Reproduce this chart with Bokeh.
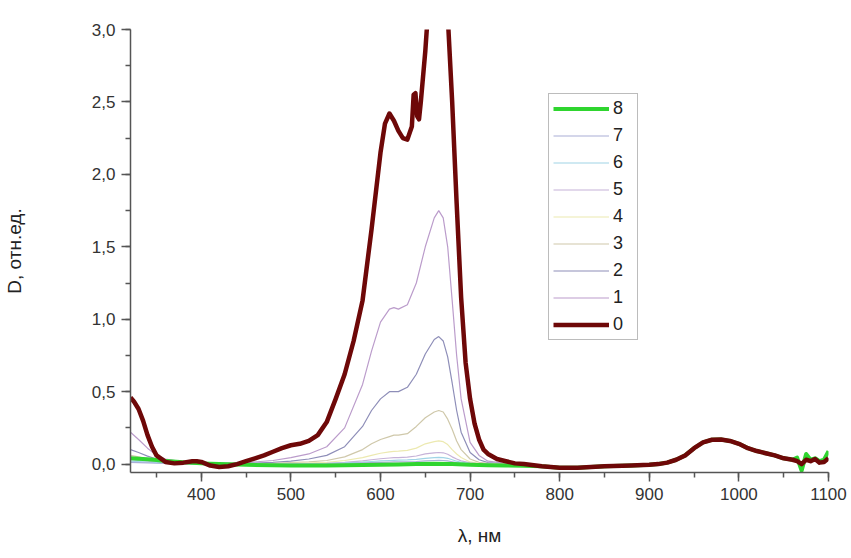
from bokeh.plotting import figure
from bokeh.models import Legend, LegendItem, SingleIntervalTicker, CustomJSTickFormatter, Range1d
from bokeh.embed import file_html
from bokeh.resources import INLINE

# ---------------- data ----------------
# shared near-IR part (all curves coincide there)
nir_wl = [780, 800, 820, 850, 880, 900, 910, 920, 930, 940, 950, 960, 970, 980, 990,
          1000, 1010, 1020, 1030, 1040, 1050, 1060, 1065, 1070, 1075, 1080, 1085, 1090, 1095, 1100]
nir_d = [-0.015, -0.025, -0.025, -0.015, -0.01, -0.005, 0.0, 0.01, 0.03, 0.06, 0.11, 0.15, 0.168, 0.17, 0.16,
         0.14, 0.11, 0.09, 0.075, 0.06, 0.04, 0.03, 0.02, 0.0, 0.03, 0.02, 0.035, 0.01, 0.015, 0.04]

# curve 0 (dark red, thick)
wl0 = [321, 325, 330, 335, 340, 345, 350, 360, 370, 380, 390, 395, 400, 410, 420, 430, 440, 450, 460,
       470, 480, 490, 500, 510, 520, 530, 540, 550, 560, 570, 580, 590, 600, 605, 610, 615, 620, 625,
       630, 635, 637, 639, 641, 643, 645, 650, 655, 660, 670, 675, 680, 685, 690, 695, 700, 705, 710,
       715, 720, 730, 740, 750, 760]
d0 = [0.46, 0.43, 0.38, 0.30, 0.20, 0.12, 0.06, 0.015, 0.005, 0.01, 0.02, 0.02, 0.015, -0.01, -0.02,
      -0.015, 0.0, 0.02, 0.04, 0.06, 0.085, 0.11, 0.13, 0.14, 0.16, 0.20, 0.29, 0.45, 0.62, 0.85, 1.13,
      1.62, 2.15, 2.35, 2.42, 2.37, 2.30, 2.25, 2.24, 2.33, 2.55, 2.56, 2.40, 2.38, 2.50, 2.85, 3.30,
      3.80, 3.80, 3.10, 2.50, 1.80, 1.15, 0.70, 0.45, 0.28, 0.17, 0.10, 0.07, 0.035, 0.02, 0.005, 0.0]

# curves 1..7 (thin) on a common grid
wl_thin = [321, 330, 340, 350, 360, 380, 400, 420, 450, 480, 500, 520, 540, 560, 580, 590, 600, 610,
           615, 620, 630, 640, 650, 660, 665, 670, 675, 680, 685, 690, 700, 710, 720, 740, 760]
d1 = [0.22, 0.17, 0.11, 0.06, 0.035, 0.015, 0.01, 0.005, 0.01, 0.025, 0.045, 0.07, 0.12, 0.25, 0.55, 0.78,
      0.98, 1.07, 1.08, 1.07, 1.10, 1.25, 1.50, 1.70, 1.75, 1.70, 1.50, 1.13, 0.75, 0.45, 0.15, 0.06, 0.02,
      0.005, 0.0]
d2 = [0.10, 0.08, 0.055, 0.035, 0.02, 0.01, 0.005, 0.0, 0.005, 0.012, 0.02, 0.035, 0.06, 0.12, 0.26, 0.37,
      0.45, 0.50, 0.50, 0.50, 0.53, 0.62, 0.76, 0.86, 0.88, 0.85, 0.74, 0.56, 0.37, 0.22, 0.08, 0.03, 0.01,
      0.0, -0.005]
d3 = [0.06, 0.05, 0.035, 0.025, 0.015, 0.008, 0.003, 0.0, 0.0, 0.005, 0.01, 0.015, 0.025, 0.05, 0.10, 0.14,
      0.17, 0.19, 0.20, 0.20, 0.21, 0.26, 0.32, 0.36, 0.37, 0.36, 0.31, 0.24, 0.16, 0.10, 0.035, 0.012, 0.005,
      0.0, -0.005]
d4 = [0.04, 0.035, 0.025, 0.018, 0.012, 0.006, 0.002, 0.0, 0.0, 0.003, 0.005, 0.008, 0.012, 0.025, 0.045,
      0.06, 0.075, 0.085, 0.088, 0.09, 0.095, 0.11, 0.14, 0.155, 0.16, 0.155, 0.135, 0.10, 0.07, 0.045, 0.015,
      0.005, 0.0, -0.005, -0.005]
d5 = [0.03, 0.025, 0.02, 0.014, 0.01, 0.005, 0.001, 0.0, -0.002, 0.0, 0.002, 0.004, 0.006, 0.012, 0.022,
      0.03, 0.037, 0.042, 0.044, 0.045, 0.048, 0.056, 0.07, 0.078, 0.08, 0.078, 0.068, 0.05, 0.035, 0.022,
      0.008, 0.002, 0.0, -0.005, -0.005]
d6 = [0.02, 0.017, 0.013, 0.01, 0.007, 0.004, 0.001, 0.0, -0.003, -0.002, 0.0, 0.002, 0.004, 0.008, 0.014,
      0.018, 0.022, 0.025, 0.026, 0.027, 0.029, 0.033, 0.04, 0.045, 0.046, 0.045, 0.04, 0.03, 0.02, 0.013,
      0.004, 0.0, -0.003, -0.005, -0.005]
d7 = [0.012, 0.01, 0.008, 0.006, 0.004, 0.002, 0.0, -0.002, -0.004, -0.003, -0.002, 0.0, 0.001, 0.004,
      0.008, 0.01, 0.012, 0.014, 0.015, 0.015, 0.016, 0.018, 0.022, 0.025, 0.026, 0.025, 0.022, 0.016, 0.01,
      0.006, 0.0, -0.003, -0.005, -0.005, -0.005]

# curve 8 (green, thick)
wl8 = [321, 330, 340, 350, 360, 380, 400, 420, 450, 480, 500, 520, 540, 560, 580, 600, 620, 640, 660,
       680, 700, 720, 740, 760]
d8 = [0.04, 0.037, 0.033, 0.028, 0.022, 0.012, 0.005, 0.0, -0.005, -0.008, -0.01, -0.01, -0.01, -0.008,
      -0.006, -0.004, -0.002, 0.0, 0.002, 0.0, -0.005, -0.008, -0.01, -0.012]
nir_d8 = [-0.015, -0.025, -0.025, -0.015, -0.01, -0.005, 0.0, 0.01, 0.03, 0.06, 0.11, 0.15, 0.168, 0.17, 0.16,
          0.14, 0.11, 0.09, 0.075, 0.06, 0.04, 0.03, 0.045, -0.045, 0.07, 0.03, 0.04, 0.02, 0.03, 0.09]

labels = ["0", "1", "2", "3", "4", "5", "6", "7", "8"]
thin_series = [d1, d2, d3, d4, d5, d6, d7]
colors = ["#6e0808", "#bb9ccb", "#8e8eb8", "#cfc8aa", "#ece9b0", "#c6b2d8", "#a0d4e6", "#aaaed6", "#2fd52f"]

# ---------------- figure ----------------
FONT = "Liberation Sans"
p = figure(width=848, height=556, output_backend="svg", toolbar_location=None,
           x_range=Range1d(321, 1100), y_range=Range1d(-0.058, 3.0),
           min_border_left=130, min_border_right=20, min_border_top=29, min_border_bottom=84)
p.outline_line_color = None
p.grid.grid_line_color = None
p.background_fill_color = "white"

renderers = {}
for i, d in enumerate(thin_series, start=1):
    renderers[str(i)] = p.line(wl_thin + nir_wl, d + nir_d, line_color=colors[i], line_width=1.2)
renderers["8"] = p.line(wl8 + nir_wl, d8 + nir_d8, line_color=colors[8], line_width=4,
                        line_join="round")
renderers["0"] = p.line(wl0 + nir_wl, d0 + nir_d, line_color=colors[0], line_width=4.5,
                        line_join="round")

items = [LegendItem(label=lab, renderers=[renderers[lab]]) for lab in reversed(labels)]
legend = Legend(items=items, location=(418, 132), orientation="vertical",
                glyph_width=56, glyph_height=21, label_height=21, spacing=6, padding=4,
                label_standoff=4, label_text_font=FONT, label_text_font_size="18px",
                label_text_color="#222222", border_line_color="#7a7a7a", border_line_width=1.5,
                background_fill_color="white", background_fill_alpha=1.0, margin=0)
p.add_layout(legend, "center")

# axes
p.xaxis.ticker = SingleIntervalTicker(interval=100, num_minor_ticks=2)
p.yaxis.ticker = SingleIntervalTicker(interval=0.5, num_minor_ticks=2)
p.yaxis.formatter = CustomJSTickFormatter(code="return tick.toFixed(1).replace('.', ',');")
for ax in (p.xaxis[0], p.yaxis[0]):
    ax.axis_line_color = "#555555"
    ax.axis_line_width = 1.5
    ax.major_tick_line_color = "#555555"
    ax.major_tick_line_width = 1.5
    ax.minor_tick_line_color = "#555555"
    ax.minor_tick_line_width = 1.5
    ax.major_tick_in = 0
    ax.major_tick_out = 9
    ax.minor_tick_in = 0
    ax.minor_tick_out = 5
    ax.major_label_text_font = FONT
    ax.major_label_text_font_size = "17px"
    ax.major_label_text_color = "#333333"
    ax.major_label_standoff = 6
    ax.axis_label_text_font = FONT
    ax.axis_label_text_font_size = "19px"
    ax.axis_label_text_font_style = "normal"
    ax.axis_label_text_color = "#222222"

p.xaxis.axis_label = "λ, нм"
p.xaxis.axis_label_standoff = 22
p.yaxis.axis_label = "D, отн.ед."
p.yaxis.axis_label_standoff = 64

open("out.html", "w").write(file_html(p, INLINE))
